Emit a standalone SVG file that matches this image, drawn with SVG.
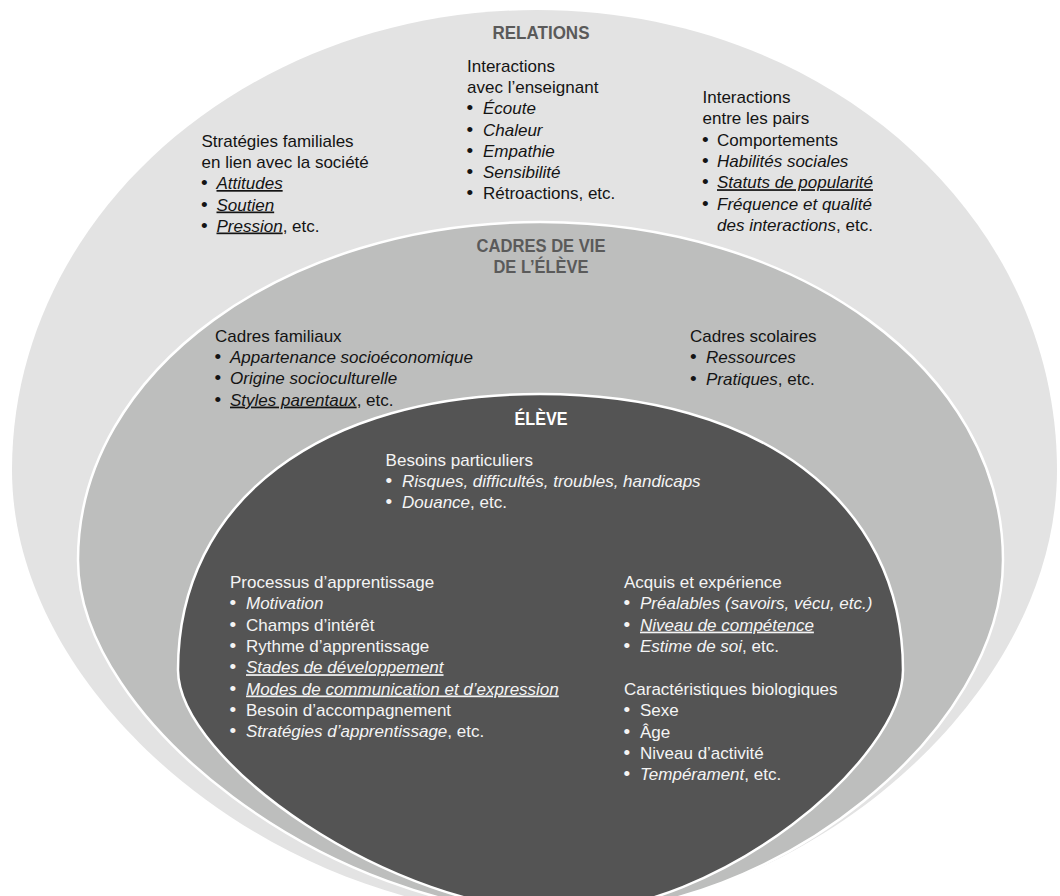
<svg xmlns="http://www.w3.org/2000/svg" width="1060" height="896" viewBox="0 0 1060 896">
<style>
.t{font-family:"Liberation Sans",Arial,sans-serif;font-size:17px;fill:#141414}
.b{font-size:19px}
.w{fill:#f4f4f4}
.i{font-style:italic}
.u{text-decoration:underline}
.h{font-family:"Liberation Sans",Arial,sans-serif;font-size:18px;font-weight:bold;fill:#5a5a5a;text-anchor:middle}
.hw{fill:#ffffff}
.outer{fill:#e3e3e3}
.mid{fill:#bdbebd;stroke:#ffffff;stroke-width:2.5}
.inner{fill:#545454;stroke:#ffffff;stroke-width:2.5}
</style>
<rect width="1060" height="896" fill="#ffffff"/>
<g id="relations">
<path class="outer" d="M537,10 C827,10 1057,216 1057,470 C1057,700 800,916 548,916 C280,916 12,700 12,470 C12,216 247,10 537,10 Z"/>
<text class="h" x="541" y="39" textLength="97" lengthAdjust="spacingAndGlyphs">RELATIONS</text>
</g>
<g id="cadres-de-vie">
<path class="mid" d="M540,222 C799,222 1003,371 1003,560 C1003,730 780,914 560,914 C330,914 78,720 78,560 C78,371 285,222 540,222 Z"/>
<text class="h" x="541" y="252" textLength="129" lengthAdjust="spacingAndGlyphs">CADRES DE VIE</text>
<text class="h" x="541" y="273" textLength="95" lengthAdjust="spacingAndGlyphs">DE L’ÉLÈVE</text>
</g>
<g id="eleve">
<path class="inner" d="M540,394 C758,394 903,500 903,670 C903,760 720,912 565,912 C390,912 178,760 178,670 C178,500 322,394 540,394 Z"/>
<text class="h hw" x="541" y="425" textLength="53" lengthAdjust="spacingAndGlyphs">ÉLÈVE</text>
</g>
<g id="strategies-familiales">
<text class="t" x="201.5" y="146.5">Stratégies familiales</text>
<text class="t" x="201.5" y="168">en lien avec la société</text>
<text class="t b" x="201" y="189">•</text><text class="t i u" x="216.5" y="189">Attitudes</text>
<text class="t b" x="201" y="210.5">•</text><text class="t i u" x="216.5" y="210.5">Soutien</text>
<text class="t b" x="201" y="231.5">•</text><text class="t" x="216.5" y="231.5"><tspan class="i u">Pression</tspan>, etc.</text>
</g>
<g id="interactions-enseignant">
<text class="t" x="467" y="72">Interactions</text>
<text class="t" x="467" y="93.2">avec l’enseignant</text>
<text class="t b" x="466.5" y="114.4">•</text><text class="t i" x="483" y="114.4">Écoute</text>
<text class="t b" x="466.5" y="135.6">•</text><text class="t i" x="483" y="135.6">Chaleur</text>
<text class="t b" x="466.5" y="156.8">•</text><text class="t i" x="483" y="156.8">Empathie</text>
<text class="t b" x="466.5" y="178">•</text><text class="t i" x="483" y="178">Sensibilité</text>
<text class="t b" x="466.5" y="199">•</text><text class="t" x="483" y="199">Rétroactions, etc.</text>
</g>
<g id="interactions-pairs">
<text class="t" x="702.5" y="103">Interactions</text>
<text class="t" x="702.5" y="124.3">entre les pairs</text>
<text class="t b" x="702" y="145.6">•</text><text class="t" x="717" y="145.6">Comportements</text>
<text class="t b" x="702" y="167">•</text><text class="t i" x="717" y="167">Habilités sociales</text>
<text class="t b" x="702" y="188.2">•</text><text class="t i u" x="717" y="188.2">Statuts de popularité</text>
<text class="t b" x="702" y="209.5">•</text><text class="t i" x="717" y="209.5">Fréquence et qualité</text>
<text class="t" x="717" y="230.8"><tspan class="i">des interactions</tspan>, etc.</text>
</g>
<g id="cadres-familiaux">
<text class="t" x="215" y="341.7">Cadres familiaux</text>
<text class="t b" x="214.5" y="363">•</text><text class="t i" x="230" y="363">Appartenance socioéconomique</text>
<text class="t b" x="214.5" y="384.3">•</text><text class="t i" x="230" y="384.3">Origine socioculturelle</text>
<text class="t b" x="214.5" y="405.6">•</text><text class="t" x="230" y="405.6"><tspan class="i u">Styles parentaux</tspan>, etc.</text>
</g>
<g id="cadres-scolaires">
<text class="t" x="690" y="341.7">Cadres scolaires</text>
<text class="t b" x="690" y="363">•</text><text class="t i" x="706" y="363">Ressources</text>
<text class="t b" x="690" y="384.5">•</text><text class="t" x="706" y="384.5"><tspan class="i">Pratiques</tspan>, etc.</text>
</g>
<g id="besoins-particuliers">
<text class="t w" x="385.6" y="465.7">Besoins particuliers</text>
<text class="t w b" x="385.5" y="487">•</text><text class="t w i" x="402" y="487">Risques, difficultés, troubles, handicaps</text>
<text class="t w b" x="385.5" y="508.3">•</text><text class="t w" x="402" y="508.3"><tspan class="i">Douance</tspan>, etc.</text>
</g>
<g id="processus-apprentissage">
<text class="t w" x="230" y="588">Processus d’apprentissage</text>
<text class="t w b" x="229.5" y="609.3">•</text><text class="t w i" x="246" y="609.3">Motivation</text>
<text class="t w b" x="229.5" y="630.6">•</text><text class="t w" x="246" y="630.6">Champs d’intérêt</text>
<text class="t w b" x="229.5" y="651.9">•</text><text class="t w" x="246" y="651.9">Rythme d’apprentissage</text>
<text class="t w b" x="229.5" y="673.2">•</text><text class="t w i u" x="246" y="673.2">Stades de développement</text>
<text class="t w b" x="229.5" y="694.5">•</text><text class="t w i u" x="246" y="694.5">Modes de communication et d’expression</text>
<text class="t w b" x="229.5" y="715.8">•</text><text class="t w" x="246" y="715.8">Besoin d’accompagnement</text>
<text class="t w b" x="229.5" y="737.1">•</text><text class="t w" x="246" y="737.1"><tspan class="i">Stratégies d’apprentissage</tspan>, etc.</text>
</g>
<g id="acquis-experience">
<text class="t w" x="624" y="588">Acquis et expérience</text>
<text class="t w b" x="623.5" y="609.3">•</text><text class="t w i" x="640" y="609.3">Préalables (savoirs, vécu, etc.)</text>
<text class="t w b" x="623.5" y="630.6">•</text><text class="t w i u" x="640" y="630.6">Niveau de compétence</text>
<text class="t w b" x="623.5" y="651.9">•</text><text class="t w" x="640" y="651.9"><tspan class="i">Estime de soi</tspan>, etc.</text>
</g>
<g id="caracteristiques-biologiques">
<text class="t w" x="624" y="695">Caractéristiques biologiques</text>
<text class="t w b" x="623.5" y="716.3">•</text><text class="t w" x="640" y="716.3">Sexe</text>
<text class="t w b" x="623.5" y="737.6">•</text><text class="t w" x="640" y="737.6">Âge</text>
<text class="t w b" x="623.5" y="758.9">•</text><text class="t w" x="640" y="758.9">Niveau d’activité</text>
<text class="t w b" x="623.5" y="780.2">•</text><text class="t w" x="640" y="780.2"><tspan class="i">Tempérament</tspan>, etc.</text>
</g>
<g id="connectors"/>
</svg>
